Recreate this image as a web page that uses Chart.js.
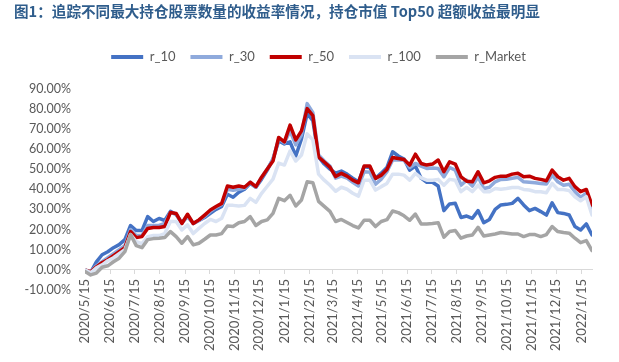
<!DOCTYPE html>
<html>
<head>
<meta charset="utf-8">
<script src="https://cdn.jsdelivr.net/npm/chart.js@4.4.1/dist/chart.umd.min.js"></script>
<style>
  html, body { margin: 0; padding: 0; background: #fff; }
  #wrap { width: 619px; height: 362px; }
</style>
</head>
<body>
<div id="wrap"><canvas id="chart" width="619" height="362"></canvas></div>
<script>
const TITLE = '图1：追踪不同最大持仓股票数量的收益率情况，持仓市值 Top50 超额收益最明显';

// monthly tick labels on the date axis
const tickLabels = [
    '2020/5/15', '2020/6/15', '2020/7/15', '2020/8/15', '2020/9/15', '2020/10/15',
    '2020/11/15', '2020/12/15', '2021/1/15', '2021/2/15', '2021/3/15', '2021/4/15',
    '2021/5/15', '2021/6/15', '2021/7/15', '2021/8/15', '2021/9/15', '2021/10/15',
    '2021/11/15', '2021/12/15', '2022/1/15'
];
const startDate = '2020/5/15';

// weekly cumulative returns (%), one value per week from 2020/5/15
const r10 = [
    0, -1.2, 4, 7.5, 9, 11, 12.5, 15, 22, 19.5,
    19.5, 26.4, 24, 25.5, 24.5, 29, 27.5, 23.5, 26.5, 23,
    24.5, 26, 28, 30, 31.5, 37.5, 36, 38.5, 40, 43,
    41, 45, 49.5, 55, 64, 62.5, 63.5, 56.5, 65, 77.5,
    74, 56, 52.5, 50, 48, 49, 47.5, 45.5, 43.7, 51.2,
    50.8, 45.4, 48, 50.8, 58.6, 56.5, 55, 49.5, 51.5, 45.5,
    43.5, 43.5, 41.6, 29.4, 32.7, 33, 26, 26.7, 25.6, 29.4,
    23.4, 25, 30, 32.2, 32.5, 33, 35.5, 32.2, 29.4, 30.5,
    28.9, 27.2, 33.3, 28.4, 28, 27.2, 21.5, 19.8, 22.8, 17.3
];
const r30 = [
    0, -1, 2, 4, 6, 8, 10, 12, 20, 17,
    17, 22, 22, 22, 23, 28.5, 27.5, 23, 27, 23,
    24.5, 26.5, 29, 31, 32.5, 40, 39.5, 40, 40.5, 43.5,
    41, 46, 50, 55, 65, 63, 69, 62, 67, 82.5,
    78, 57, 54, 51.5, 45.5, 46.5, 45.5, 43.5, 41.6, 48.7,
    48.5, 42.5, 45, 48.7, 54.5, 54.5, 54.5, 50.8, 52.8, 51.5,
    50.3, 50.5, 50.3, 46.2, 50.8, 49.5, 42, 44.5, 41.6, 46.2,
    40.4, 41, 43.7, 44.9, 45, 45.5, 45.9, 43.7, 43.5, 43.2,
    42.9, 42.6, 47, 43.7, 42, 42.5, 38.8, 36, 38, 28.9
];
const r50 = [
    0, -1, 1.5, 3.5, 5, 7, 9, 11, 19, 16,
    16.5, 20.5, 21, 21, 21.5, 28.5, 28, 23, 27.6, 23,
    24.8, 27.2, 29.7, 31.4, 33, 41.6, 41, 41.6, 41, 43.5,
    41.3, 46, 50, 54, 65.7, 63.5, 71.8, 64.5, 69, 80,
    76.5, 56, 53.5, 51, 46.3, 47.9, 46.5, 44.5, 43.2, 51.5,
    51.5, 45.4, 47, 49.8, 55.8, 55.3, 54.8, 52, 57.4, 52.8,
    52, 52.5, 54.5, 48.7, 53.6, 52.5, 46.2, 44, 43.7, 48.7,
    43.2, 44.2, 45.9, 46.5, 46.5, 47.5, 47.9, 46.2, 46.5, 45.4,
    44.9, 44.2, 49.5, 46.2, 44.5, 45.4, 41.3, 38.8, 39.9, 32.2
];
const r100 = [
    0, -1.5, 1, 2.5, 4.5, 6, 8, 10, 17.5, 14,
    13, 16.5, 17, 17, 18, 24, 24, 19.8, 22.3, 18,
    20.6, 23, 25, 24, 25.6, 32, 32, 31.7, 32, 35.5,
    33.5, 38, 41.5, 45, 53, 52, 59, 54, 57, 67.5,
    64.5, 47.5, 44.5, 42, 39, 41, 40, 38, 36.6, 44.5,
    44.5, 39.6, 41.3, 42.9, 47.5, 47.5, 47, 44.5, 47.9, 45.6,
    44.5, 44.5, 44.9, 42, 44.9, 44.5, 38.8, 40.9, 38.8, 42,
    38.8, 38.8, 40.4, 40, 40.4, 40.9, 40.9, 39.9, 39.6, 38.8,
    38.8, 38.3, 42.9, 39.9, 39.9, 39.3, 36.3, 34.3, 36.3, 27.2
];
const rMarket = [
    -0.8, -2.5, -1.6, 1.3, 2, 4, 5.8, 9, 17.5, 12,
    11, 15, 15.5, 15.7, 16, 19, 16.5, 13.2, 16.5, 12.4,
    13.2, 15.2, 17.3, 17.3, 18, 21.8, 21.5, 23.4, 24, 26.4,
    22, 24, 24.8, 28, 35.5, 34.3, 37, 31.7, 34.7, 43.7,
    43.2, 34, 31.5, 29, 24, 25, 23.5, 22, 20.8, 24.6,
    24.6, 21.5, 24, 24.9, 29.2, 28.4, 26.8, 24.6, 27.7, 22.8,
    22.8, 23, 23.4, 16.2, 19, 19.5, 15.7, 16.8, 17.3, 21.1,
    16.8, 17.3, 17.8, 18.5, 18.2, 17.8, 17.8, 16.5, 17.5, 17.5,
    16.5, 17.5, 21.5, 19, 18.5, 18.2, 15.7, 13.5, 14.5, 9.6
];

const seriesNames = ['r_10', 'r_30', 'r_50', 'r_100', 'r_Market'];
const seriesColors = ['#4472C4', '#8FAADC', '#C00000', '#DAE3F3', '#A5A5A5'];
const seriesValues = [r10, r30, r50, r100, rMarket];

// position of a date on the axis, in weeks from the first data point
function weekOf(label) {
    const [y, m, d] = label.split('/').map(Number);
    const [y0, m0, d0] = startDate.split('/').map(Number);
    return (Date.UTC(y, m - 1, d) - Date.UTC(y0, m0 - 1, d0)) / (7 * 864e5);
}

const datasets = seriesValues.map((vals, k) => ({
    label: seriesNames[k],
    data: vals.map((v, i) => ({ x: i, y: v })),
    borderColor: seriesColors[k],
    backgroundColor: seriesColors[k],
    borderWidth: 3.5,
    pointRadius: 0,
    tension: 0,
    borderJoinStyle: 'round',
    borderCapStyle: 'round',
    order: seriesNames.length - k   // later series drawn on top, like the original
}));

const titlePlugin = {
    id: 'figTitle',
    afterDraw(chart) {
        const ctx = chart.ctx;
        ctx.save();
        ctx.font = 'bold 14.6px "Noto Sans CJK SC"';
        ctx.fillStyle = '#2F5D8C';
        ctx.textBaseline = 'middle';
        ctx.textAlign = 'left';
        ctx.fillText(TITLE, 14, 11.5);
        ctx.restore();
    }
};

// extra gap below the legend, and nudge it right so it sits where the original does
const legendTweak = {
    id: 'legendTweak',
    beforeInit(chart) {
        const fit = chart.legend.fit;
        chart.legend.fit = function () {
            fit.bind(chart.legend)();
            this.height += 15;
        };
    },
    afterLayout(chart) {
        chart.legend.left += 22.5;
        chart.legend.right += 22.5;
    }
};

const lastWeek = r10.length - 1;

new Chart(document.getElementById('chart'), {
    type: 'line',
    data: { datasets },
    plugins: [titlePlugin, legendTweak],
    options: {
        responsive: false,
        animation: false,
        layout: { padding: { left: 0, right: 27, top: 35.5, bottom: 72 } },
        plugins: {
            tooltip: { enabled: false },
            legend: {
                position: 'top',
                labels: {
                    boxWidth: 32,
                    boxHeight: 4,
                    padding: 15,
                    color: '#595959',
                    font: { family: 'Lato', size: 13 },
                    sort: (a, b) => a.datasetIndex - b.datasetIndex,
                    generateLabels: chart =>
                        Chart.defaults.plugins.legend.labels.generateLabels(chart).map(it =>
                            Object.assign(it, { fillStyle: it.strokeStyle, lineWidth: 0 }))
                }
            }
        },
        scales: {
            x: {
                type: 'linear',
                min: 0,
                max: lastWeek,
                position: { y: 0 },
                afterBuildTicks: s => { s.ticks = tickLabels.map(l => ({ value: weekOf(l) })); },
                ticks: {
                    autoSkip: false,
                    minRotation: 90,
                    maxRotation: 90,
                    padding: 5,
                    color: '#595959',
                    font: { family: 'Lato', size: 13 },
                    callback: (v, i) => tickLabels[i]
                },
                grid: { drawOnChartArea: false, drawTicks: true, tickLength: 4, color: '#D9D9D9' },
                border: { display: true, color: '#D9D9D9', width: 1 }
            },
            y: {
                min: -10,
                max: 90,
                afterFit: s => { s.width = 85; },
                ticks: {
                    stepSize: 10,
                    padding: 14,
                    color: '#595959',
                    font: { family: 'Lato', size: 12.5 },
                    callback: v => v.toFixed(2) + '%'
                },
                grid: { display: false, drawTicks: false },
                border: { display: false }
            }
        }
    }
});
</script>
</body>
</html>
